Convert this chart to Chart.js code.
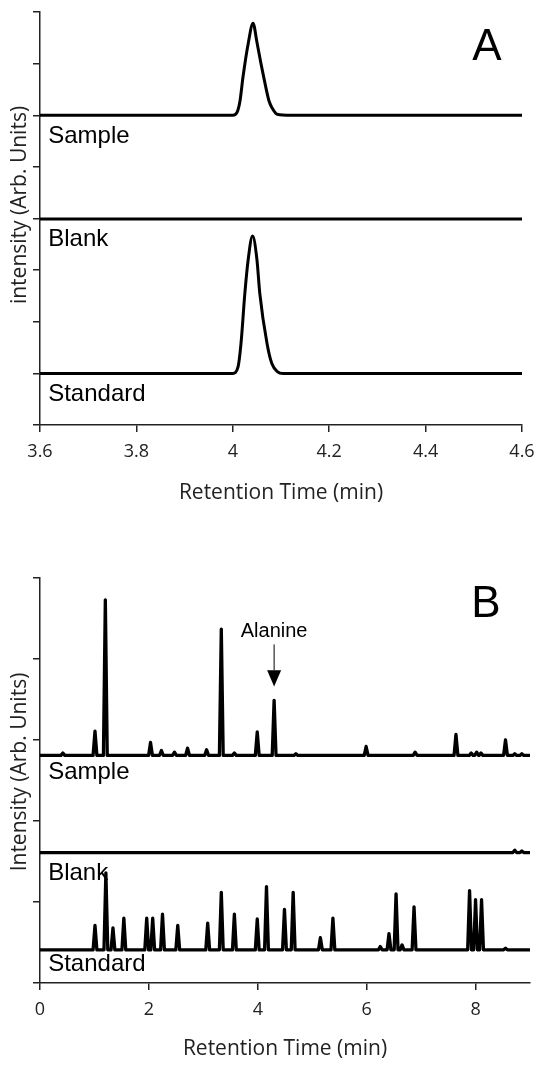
<!DOCTYPE html>
<html>
<head>
<meta charset="utf-8">
<script src="https://cdn.jsdelivr.net/npm/chart.js@4.4.1/dist/chart.umd.min.js"></script>
<style>
  body { margin: 0; background: #fff; width: 539px; height: 1068px; position: relative; overflow: hidden; }
  .panel { position: absolute; left: 0; width: 539px; }
  #panelA { top: 0; height: 512px; }
  #panelB { top: 560px; height: 508px; }
</style>
</head>
<body>
<div class="panel" id="panelA"><canvas id="chartA"></canvas></div>
<div class="panel" id="panelB"><canvas id="chartB"></canvas></div>

<script>
// ---- panel A data (retention time in min, intensity in arb. units) ----
const aTimeTicks = [3.6, 3.8, 4, 4.2, 4.4, 4.6];

const aSampleTime   = [3.6, 4.0, 4.009, 4.015, 4.021, 4.032, 4.042, 4.05, 4.058, 4.065, 4.075, 4.081, 4.092, 4.12, 4.6];
const aSampleSignal = [6.0, 6.0, 6.06, 6.28, 6.73, 7.39, 7.78, 7.42, 7.02, 6.7, 6.28, 6.15, 6.02, 6.0, 6.0];

const aBlankTime   = [3.6, 4.6];
const aBlankSignal = [3.99, 3.99];

const aStandardTime   = [3.6, 4.0, 4.011, 4.017, 4.025, 4.032, 4.041, 4.05, 4.056, 4.071, 4.081, 4.093, 4.104, 4.6];
const aStandardSignal = [1.0, 1.0, 1.13, 1.58, 2.55, 3.21, 3.66, 3.21, 2.55, 1.58, 1.19, 1.03, 1.0, 1.0];

// ---- panel B data (peak retention times and peak tops) ----
const bTimeTicks = [0, 2, 4, 6, 8];

const bSampleBase = 2.81;
const bSamplePeakTimes = [0.42, 1.01, 1.2, 2.03, 2.23, 2.47, 2.71, 3.06, 3.33, 3.57, 3.99, 4.3, 4.7, 5.99, 6.89, 7.64, 7.92, 8.02, 8.1, 8.55, 8.72, 8.85];
const bSamplePeakTops  = [2.84, 3.11, 4.73, 2.97, 2.87, 2.85, 2.9, 2.88, 4.37, 2.84, 3.1, 3.49, 2.83, 2.92, 2.85, 3.07, 2.84, 2.85, 2.84, 3.0, 2.83, 2.83];

const bBlankBase = 1.61;
const bBlankPeakTimes = [8.72, 8.85];
const bBlankPeakTops  = [1.64, 1.63];

const bStandardBase = 0.41;
const bStandardPeakTimes = [1.01, 1.21, 1.34, 1.54, 1.96, 2.07, 2.25, 2.53, 3.08, 3.33, 3.57, 3.99, 4.16, 4.49, 4.65, 5.15, 5.38, 6.25, 6.41, 6.54, 6.65, 6.87, 7.89, 8.0, 8.11, 8.55];
const bStandardPeakTops  = [0.71, 1.36, 0.68, 0.8, 0.8, 0.8, 0.85, 0.71, 0.74, 1.12, 0.85, 0.79, 1.19, 0.91, 1.12, 0.56, 0.8, 0.45, 0.61, 1.1, 0.47, 0.94, 1.14, 1.03, 1.03, 0.43];

const peakHalfWidth = 0.035;

function pairUp(times, values) {
     return times.map((t, i) => ({ x: t, y: values[i] }));
}

// baseline, then up to each peak top and back down
function peakTrace(base, times, tops, start, end) {
     const pts = [{ x: start, y: base }];
     times.forEach((t, i) => {
          pts.push({ x: t - peakHalfWidth, y: base });
          pts.push({ x: t, y: tops[i] });
          pts.push({ x: t + peakHalfWidth, y: base });
     });
     pts.push({ x: end, y: base });
     return pts;
}

const tickFont = { family: 'Open Sans', size: 18 };
const labelFont = '24px "Liberation Sans", Arial, sans-serif';
const axisColor = '#222';

// draws the trace names, panel letter, y title and arrow
const annotations = {
     id: 'annotations',
     afterDraw(chart, args, opts) {
          const ctx = chart.ctx;
          const xs = chart.scales.x, ys = chart.scales.y;
          ctx.save();
          ctx.fillStyle = '#000';
          ctx.textBaseline = 'middle';
          ctx.textAlign = 'left';
          ctx.font = labelFont;
          opts.labels.forEach(l => {
               ctx.fillText(l.text, xs.getPixelForValue(l.x), ys.getPixelForValue(l.y));
          });

          ctx.font = '44px "Liberation Sans", Arial, sans-serif';
          ctx.textAlign = 'center';
          ctx.fillText(opts.letter.text, xs.getPixelForValue(opts.letter.x), ys.getPixelForValue(opts.letter.y));

          if (opts.arrow) {
               const a = opts.arrow;
               const ax = xs.getPixelForValue(a.x);
               ctx.font = '20px "Liberation Sans", Arial, sans-serif';
               ctx.fillText(a.text, ax, ys.getPixelForValue(a.textY));
               const y0 = ys.getPixelForValue(a.fromY), y1 = ys.getPixelForValue(a.headY), y2 = ys.getPixelForValue(a.toY);
               ctx.strokeStyle = '#000';
               ctx.lineWidth = 1;
               ctx.beginPath();
               ctx.moveTo(ax, y0);
               ctx.lineTo(ax, y1);
               ctx.stroke();
               ctx.beginPath();
               ctx.moveTo(ax - 7, y1);
               ctx.lineTo(ax + 7, y1);
               ctx.lineTo(ax, y2);
               ctx.closePath();
               ctx.fill();
          }

          // rotated y axis title
          ctx.font = '21px "Open Sans"';
          ctx.translate(20, opts.yTitle.center);
          ctx.rotate(-Math.PI / 2);
          ctx.textAlign = 'center';
          ctx.fillStyle = '#222';
          ctx.fillText(opts.yTitle.text, 0, 0);
          ctx.restore();
     }
};

function makeScales(xMin, xMax, xTicks, yMax, xLabel, fmt, xHeight) {
     return {
          x: {
               type: 'linear',
               min: xMin,
               max: xMax,
               afterBuildTicks: (s) => { s.ticks = xTicks.map(v => ({ value: v })); },
               afterFit: (s) => {
                    s.height = xHeight;
                    s.paddingLeft = 0;
                    s.paddingRight = 0;
               },
               border: { color: axisColor, width: 1.5 },
               grid: { drawOnChartArea: false, color: axisColor, lineWidth: 1.5, tickLength: 7 },
               ticks: { color: '#222', font: tickFont, padding: 9, maxRotation: 0, callback: fmt },
               title: { display: true, text: xLabel, color: '#222', font: { family: 'Open Sans', size: 21 }, padding: { top: 0, bottom: 6 } }
          },
          y: {
               min: 0,
               max: yMax,
               afterFit: (s) => { s.width = 40; },
               border: { color: axisColor, width: 1.5 },
               grid: { drawOnChartArea: false, color: axisColor, lineWidth: 1.5, tickLength: 7 },
               ticks: { display: false, stepSize: 1 }
          }
     };
}

function traceSet(points, smooth) {
     return {
          data: points,
          borderColor: '#000',
          borderWidth: smooth ? 3 : 3.3,
          pointRadius: 0,
          fill: false,
          tension: 0,
          cubicInterpolationMode: smooth ? 'monotone' : 'default',
          borderJoinStyle: 'round'
     };
}

const baseOptions = {
     responsive: true,
     maintainAspectRatio: false,
     animation: false,
     events: [],
     plugins: { legend: { display: false }, tooltip: { enabled: false } }
};

new Chart(document.getElementById('chartA'), {
     type: 'line',
     data: {
          datasets: [
               traceSet(pairUp(aSampleTime, aSampleSignal), true),
               traceSet(pairUp(aBlankTime, aBlankSignal), true),
               traceSet(pairUp(aStandardTime, aStandardSignal), true)
          ]
     },
     options: {
          ...baseOptions,
          layout: { padding: { left: 0, right: 17, top: 12, bottom: 0 } },
          scales: makeScales(3.6, 4.6, aTimeTicks, 8, 'Retention Time (min)', v => String(Number(v.toFixed(1))), 87),
          plugins: {
               ...baseOptions.plugins,
               annotations: {
                    labels: [
                         { text: 'Sample', x: 3.617, y: 5.6 },
                         { text: 'Blank', x: 3.617, y: 3.6 },
                         { text: 'Standard', x: 3.617, y: 0.6 }
                    ],
                    letter: { text: 'A', x: 4.527, y: 7.3 },
                    yTitle: { text: 'intensity (Arb. Units)', center: 205 }
               }
          }
     },
     plugins: [annotations]
});

new Chart(document.getElementById('chartB'), {
     type: 'line',
     data: {
          datasets: [
               traceSet(peakTrace(bSampleBase, bSamplePeakTimes, bSamplePeakTops, 0, 9), false),
               traceSet(peakTrace(bBlankBase, bBlankPeakTimes, bBlankPeakTops, 0, 9), false),
               traceSet(peakTrace(bStandardBase, bStandardPeakTimes, bStandardPeakTops, 0, 9), false)
          ]
     },
     options: {
          ...baseOptions,
          layout: { padding: { left: 0, right: 9, top: 18, bottom: 0 } },
          scales: makeScales(0, 9, bTimeTicks, 5, 'Retention Time (min)', v => String(v), 85),
          plugins: {
               ...baseOptions.plugins,
               annotations: {
                    labels: [
                         { text: 'Sample', x: 0.15, y: 2.6 },
                         { text: 'Blank', x: 0.15, y: 1.35 },
                         { text: 'Standard', x: 0.15, y: 0.23 }
                    ],
                    letter: { text: 'B', x: 8.19, y: 4.67 },
                    arrow: { text: 'Alanine', x: 4.3, textY: 4.34, fromY: 4.18, headY: 3.86, toY: 3.66 },
                    yTitle: { text: 'Intensity (Arb. Units)', center: 212 }
               }
          }
     },
     plugins: [annotations]
});
</script>
</body>
</html>
